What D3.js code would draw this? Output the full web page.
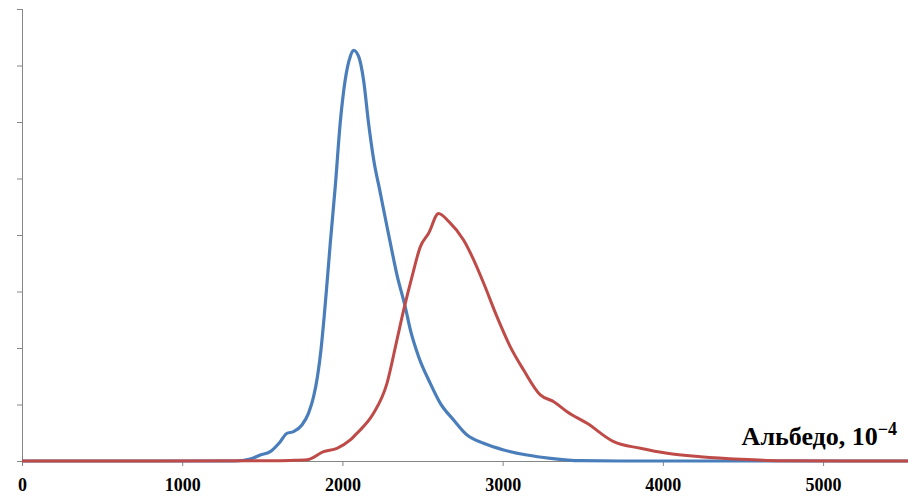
<!DOCTYPE html>
<html>
<head>
<meta charset="utf-8">
<script src="https://cdn.jsdelivr.net/npm/d3@7"></script>
<style>
  body { margin: 0; background: #fff; }
  svg { display: block; }
</style>
</head>
<body>
<script>
/* albedo distribution, two series */
var width = 908;
var height = 496;

var xTicks = [0, 1000, 2000, 3000, 4000, 5000];
var yTicks = [0, 1, 2, 3, 4, 5, 6, 7, 8];

// albedo (10^-4) and frequency
var blueX = [0, 1330, 1424, 1487, 1549, 1612, 1653, 1695, 1747, 1788, 1820, 1844, 1866, 1886, 1903, 1924,
  1955, 1986, 2017, 2049, 2069, 2101, 2132, 2163, 2194, 2236, 2278, 2319, 2340, 2392, 2424, 2475,
  2548, 2611, 2694, 2778, 2881, 3006, 3152, 3298, 3485, 3735, 5530];
var blueY = [0, 0, 0.035, 0.106, 0.165, 0.342, 0.49, 0.519, 0.637, 0.844, 1.138, 1.492, 1.965, 2.554, 3.12, 3.85,
  4.85, 5.98, 6.74, 7.16, 7.27, 7.16, 6.74, 5.98, 5.35, 4.75, 4.15, 3.58, 3.30, 2.73, 2.32, 1.85,
  1.375, 1.02, 0.726, 0.46, 0.313, 0.195, 0.106, 0.048, 0.005, 0, 0];

var redX = [0, 1549, 1674, 1778, 1882, 1966, 2049, 2090, 2111, 2194, 2278, 2340, 2382, 2434, 2486, 2538,
  2600, 2663, 2756, 2819, 2881, 2965, 3048, 3131, 3235, 3319, 3402, 3527, 3693, 3860, 4027, 4235,
  4485, 4735, 5530];
var redY = [0, 0.005, 0.01, 0.02, 0.165, 0.225, 0.372, 0.49, 0.549, 0.844, 1.375, 2.14, 2.67, 3.26, 3.79, 4.03,
  4.38, 4.24, 3.91, 3.56, 3.15, 2.55, 2.02, 1.61, 1.17, 1.05, 0.873, 0.667, 0.342, 0.225, 0.136, 0.076,
  0.03, 0.005, 0];

var svg = d3.select('body').append('svg').attr('width', width).attr('height', height);

var x = d3.scaleLinear().domain([0, 5530]).range([22, 908]);
var y = d3.scaleLinear().domain([0, 8]).range([461, 9]);

// y axis, ticks but no labels
var yAxis = svg.append('g')
    .attr('transform', 'translate(22,0)')
    .call(d3.axisLeft(y).tickValues(yTicks).tickSize(5).tickFormat(''));
yAxis.select('.domain').attr('stroke', '#868686').attr('d', 'M0.5,' + y(8) + 'V' + y(0));
yAxis.selectAll('.tick line').attr('stroke', '#868686');

// x axis
var xAxis = svg.append('g')
    .attr('transform', 'translate(0,461)')
    .call(d3.axisBottom(x).tickValues(xTicks).tickSize(5).tickSizeOuter(0).tickFormat(d3.format('d')));
xAxis.select('.domain').attr('stroke', '#868686');
xAxis.selectAll('.tick line').attr('stroke', '#868686');
xAxis.selectAll('.tick text')
    .attr('y', 30)
    .attr('dy', 0)
    .attr('fill', '#000')
    .style('font-family', '"Liberation Serif", "Times New Roman", serif')
    .style('font-weight', 'bold')
    .style('font-size', '18px');

var line = d3.line()
    .x(function(d){ return x(d[0]); })
    .y(function(d){ return y(d[1]); })
    .curve(d3.curveMonotoneX);

var blue = d3.zip(blueX, blueY);
var red = d3.zip(redX, redY);

svg.append('path')
    .datum(blue)
    .attr('fill', 'none')
    .attr('stroke', '#4a7ebb')
    .attr('stroke-width', 3.2)
    .attr('d', line);

svg.append('path')
    .datum(red)
    .attr('fill', 'none')
    .attr('stroke', '#be4b48')
    .attr('stroke-width', 3)
    .attr('d', line);

// axis title
var label = svg.append('text')
    .attr('x', 897)
    .attr('y', 445)
    .attr('text-anchor', 'end')
    .style('font-family', '"Liberation Serif", "Times New Roman", serif')
    .style('font-weight', 'bold')
    .style('font-size', '26px')
    .attr('fill', '#000');
label.append('tspan').text('Альбедо, 10');
label.append('tspan').attr('dy', -10).style('font-size', '18px').text('−4');
</script>
</body>
</html>
